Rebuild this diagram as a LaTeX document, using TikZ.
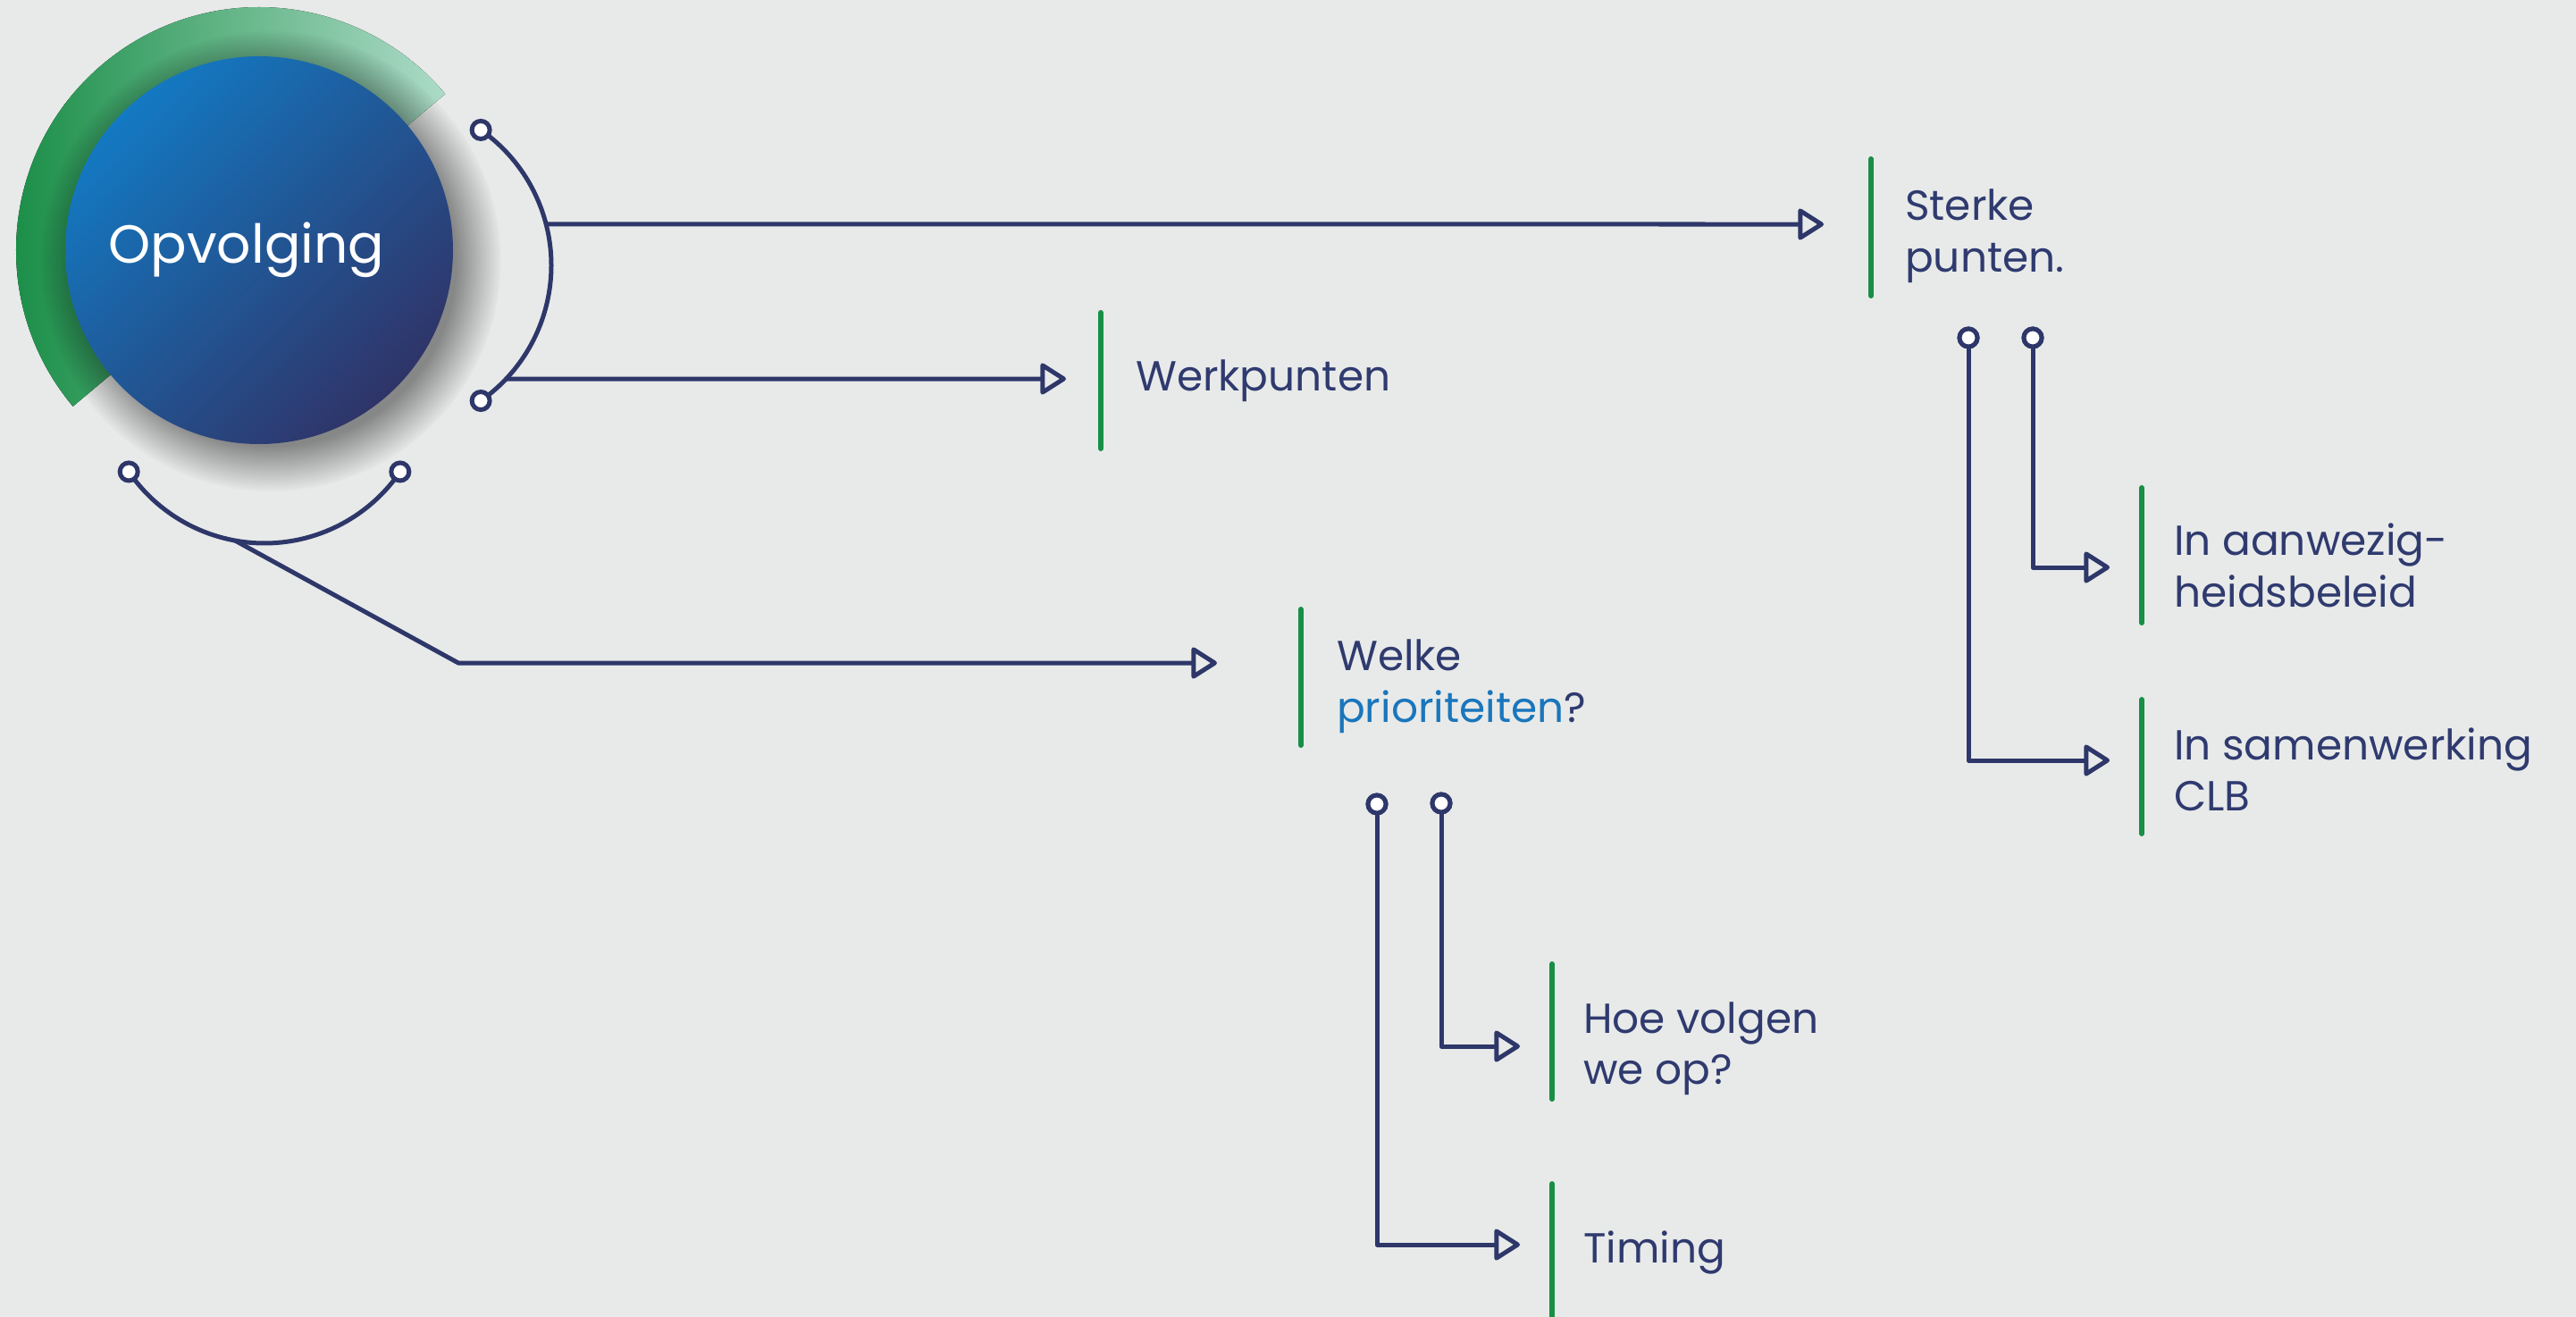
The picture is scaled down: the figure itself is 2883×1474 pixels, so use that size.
\documentclass[tikz,border=0pt]{standalone}
\usepackage{fontspec}
\setmainfont{Poppins}
\usetikzlibrary{arrows.meta,calc,fadings}
\definecolor{bg}{HTML}{E8EAE9}
\definecolor{navy}{HTML}{2E3769}
\definecolor{txt}{HTML}{2F3A6F}
\definecolor{barg}{HTML}{178F46}
\definecolor{lblue}{HTML}{1A76BC}
\definecolor{gdark}{HTML}{128A40}
\definecolor{glight}{HTML}{ACDBC7}
\definecolor{bluea}{HTML}{1379C2}
\definecolor{blueb}{HTML}{2F3468}
\begin{document}
\begin{tikzpicture}[x=1pt,y=1pt,
  conn/.style={draw=navy, line width=5pt, line join=round},
  arr/.style={conn, -{Triangle[open,round,length=31pt,width=38pt]}},
  dot/.style={circle, draw=navy, line width=5pt, fill=white, minimum size=20pt, inner sep=0pt},
  gbar/.style={draw=barg, line width=6pt, line cap=round},
  lbl/.style={anchor=base west, inner sep=0pt, text=txt, font=\fontsize{47}{57.6}\selectfont},
]
\path[use as bounding box, fill=bg] (0,0) rectangle (2883,-1474);

% green half ring
\fill[left color=gdark, right color=glight] (290,-280) -- ++(40:272) arc[start angle=40,end angle=220,radius=272] -- cycle;

% shadow of main circle
\fill[black, opacity=0.42, path fading=circle with fuzzy edge 20 percent] (303,-292) circle[radius=258];
% main circle
\node[circle, minimum size=434pt, inner sep=0pt, top color=bluea, bottom color=blueb, shading angle=45] (main) at (290,-280) {};
\node[anchor=base, inner sep=0pt, text=white, font=\fontsize{60}{70}\selectfont] (opv) at (276,-294) {Opvolging};

% right bracket arc
\coordinate (rc) at (432,-297);
\coordinate (ra1) at ($(rc)+(55:185)$);
\coordinate (ra2) at ($(rc)+(-55:185)$);
\coordinate (l1s) at ($(rc)+(14.4:185)$);
\coordinate (l2s) at ($(rc)+(-43.36:185)$);
\draw[conn] (ra1) arc[start angle=55, end angle=-55, radius=185];

% bottom bracket arc
\coordinate (bc) at (296,-424);
\coordinate (ba1) at ($(bc)+(214.4:184)$);
\coordinate (ba2) at ($(bc)+(325.6:184)$);
\coordinate (l3s) at ($(bc)+(259.7:184)$);
\draw[conn] (ba1) arc[start angle=214.4, end angle=325.6, radius=184];

% arrow tips
\coordinate (t1) at (2041,-251);
\coordinate (t2) at (1193,-424);
\coordinate (t3k) at (513,-742);
\coordinate (t3) at (1362,-742);
\draw[arr] (l1s) -- (t1);
\draw[arr] (l2s) -- (t2);
\draw[arr] (l3s) -- (t3k) -- (t3);

% dots on the brackets
\node[dot] (d1) at (ra1) {};
\node[dot] (d2) at (ra2) {};
\node[dot] (d3) at (ba1) {};
\node[dot] (d4) at (ba2) {};

% Sterke punten
\draw[gbar] (2094,-178) -- (2094,-331);
\node[lbl] (sterke) at (2132,-246.7) {\begin{tabular}[t]{@{}l@{}}Sterke\\punten.\end{tabular}};

% Werkpunten
\draw[gbar] (1232,-350) -- (1232,-502);
\node[lbl] (werk) at (1271,-437.3) {Werkpunten};

% Welke prioriteiten
\draw[gbar] (1456,-682) -- (1456,-834);
\node[lbl] (welke) at (1496,-750.7) {\begin{tabular}[t]{@{}l@{}}Welke\\\textcolor{lblue}{prioriteiten}?\end{tabular}};

% sub-branches of Sterke punten
\node[dot] (s1) at (2203,-378) {};
\node[dot] (s2) at (2275,-378) {};
\coordinate (st1) at (2361,-635);
\coordinate (st2) at (2361,-851);
\draw[arr] (s2.center) |- (st1);
\draw[arr] (s1.center) |- (st2);
\node[dot] at (s1) {};
\node[dot] at (s2) {};
\draw[gbar] (2397,-546) -- (2397,-697);
\node[lbl] (aanw) at (2433,-621.7) {\begin{tabular}[t]{@{}l@{}}In aanwezig-\\heidsbeleid\end{tabular}};
\draw[gbar] (2397,-783) -- (2397,-933);
\node[lbl] (clb) at (2433,-850) {\begin{tabular}[t]{@{}l@{}}In samenwerking\\CLB\end{tabular}};

% sub-branches of Welke prioriteiten
\node[dot] (w1) at (1541,-900) {};
\node[dot] (w2) at (1613,-899) {};
\coordinate (wt1) at (1701,-1171);
\coordinate (wt2) at (1701,-1393);
\draw[arr] (w2.center) |- (wt1);
\draw[arr] (w1.center) |- (wt2);
\node[dot] at (w1) {};
\node[dot] at (w2) {};
\draw[gbar] (1737,-1079) -- (1737,-1230);
\node[lbl] (hoe) at (1772,-1156) {\begin{tabular}[t]{@{}l@{}}Hoe volgen\\we op?\end{tabular}};
\draw[gbar] (1737,-1325) -- (1737,-1478);
\node[lbl] (timing) at (1772,-1413) {Timing};
\end{tikzpicture}
\end{document}
